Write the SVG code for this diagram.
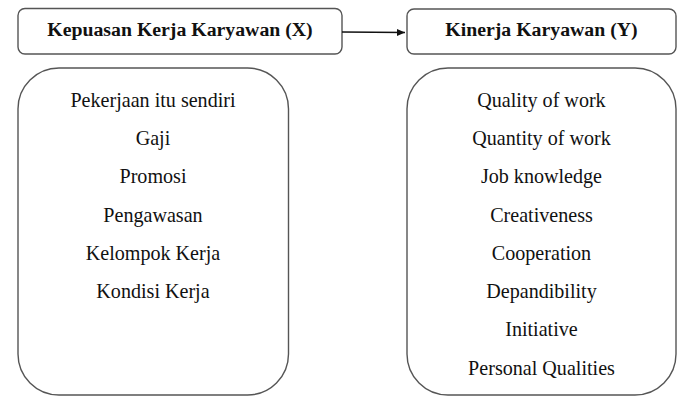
<svg xmlns="http://www.w3.org/2000/svg" width="681" height="397" viewBox="0 0 681 397">
<style>
.box{fill:#fff;stroke:#555;stroke-width:1.4}
.title{font-family:'Liberation Serif','Times New Roman','DejaVu Serif',serif;font-weight:bold;font-size:19.8px;fill:#111;text-anchor:middle}
.item{font-family:'Liberation Serif','Times New Roman','DejaVu Serif',serif;font-size:20.1px;fill:#111;text-anchor:middle}
.conn{stroke:#111;stroke-width:1.4;fill:none}
</style>
<defs>
<marker id="arr" markerWidth="8" markerHeight="8" refX="8" refY="4" orient="auto" markerUnits="userSpaceOnUse">
<path d="M0,0.5 L8,4 L0,7.5 Z" fill="#111"/>
</marker>
</defs>
<rect width="681" height="397" fill="#fff"/>
<g id="node-x">
<rect class="box" x="18" y="8.5" width="324" height="45.5" rx="7"/>
<text class="title" x="180" y="36">Kepuasan Kerja Karyawan (X)</text>
</g>
<g id="node-y">
<rect class="box" x="407" y="9" width="269" height="45" rx="7"/>
<text class="title" x="541.5" y="36">Kinerja Karyawan (Y)</text>
</g>
<g id="node-x-items">
<rect class="box" x="18" y="68" width="270.5" height="327" rx="41"/>
<text class="item" x="153" y="107">Pekerjaan itu sendiri</text>
<text class="item" x="153" y="145.2">Gaji</text>
<text class="item" x="153" y="183.4">Promosi</text>
<text class="item" x="153" y="221.6">Pengawasan</text>
<text class="item" x="153" y="259.8">Kelompok Kerja</text>
<text class="item" x="153" y="298">Kondisi Kerja</text>
</g>
<g id="node-y-items">
<rect class="box" x="407" y="68" width="269" height="327" rx="41"/>
<text class="item" x="541.5" y="107">Quality of work</text>
<text class="item" x="541.5" y="145.2">Quantity of work</text>
<text class="item" x="541.5" y="183.4">Job knowledge</text>
<text class="item" x="541.5" y="221.6">Creativeness</text>
<text class="item" x="541.5" y="259.8">Cooperation</text>
<text class="item" x="541.5" y="298">Depandibility</text>
<text class="item" x="541.5" y="336.4">Initiative</text>
<text class="item" x="541.5" y="374.5">Personal Qualities</text>
</g>
<g id="connectors">
<line class="conn" x1="342" y1="32" x2="405" y2="32.5" marker-end="url(#arr)"/>
</g>
</svg>
